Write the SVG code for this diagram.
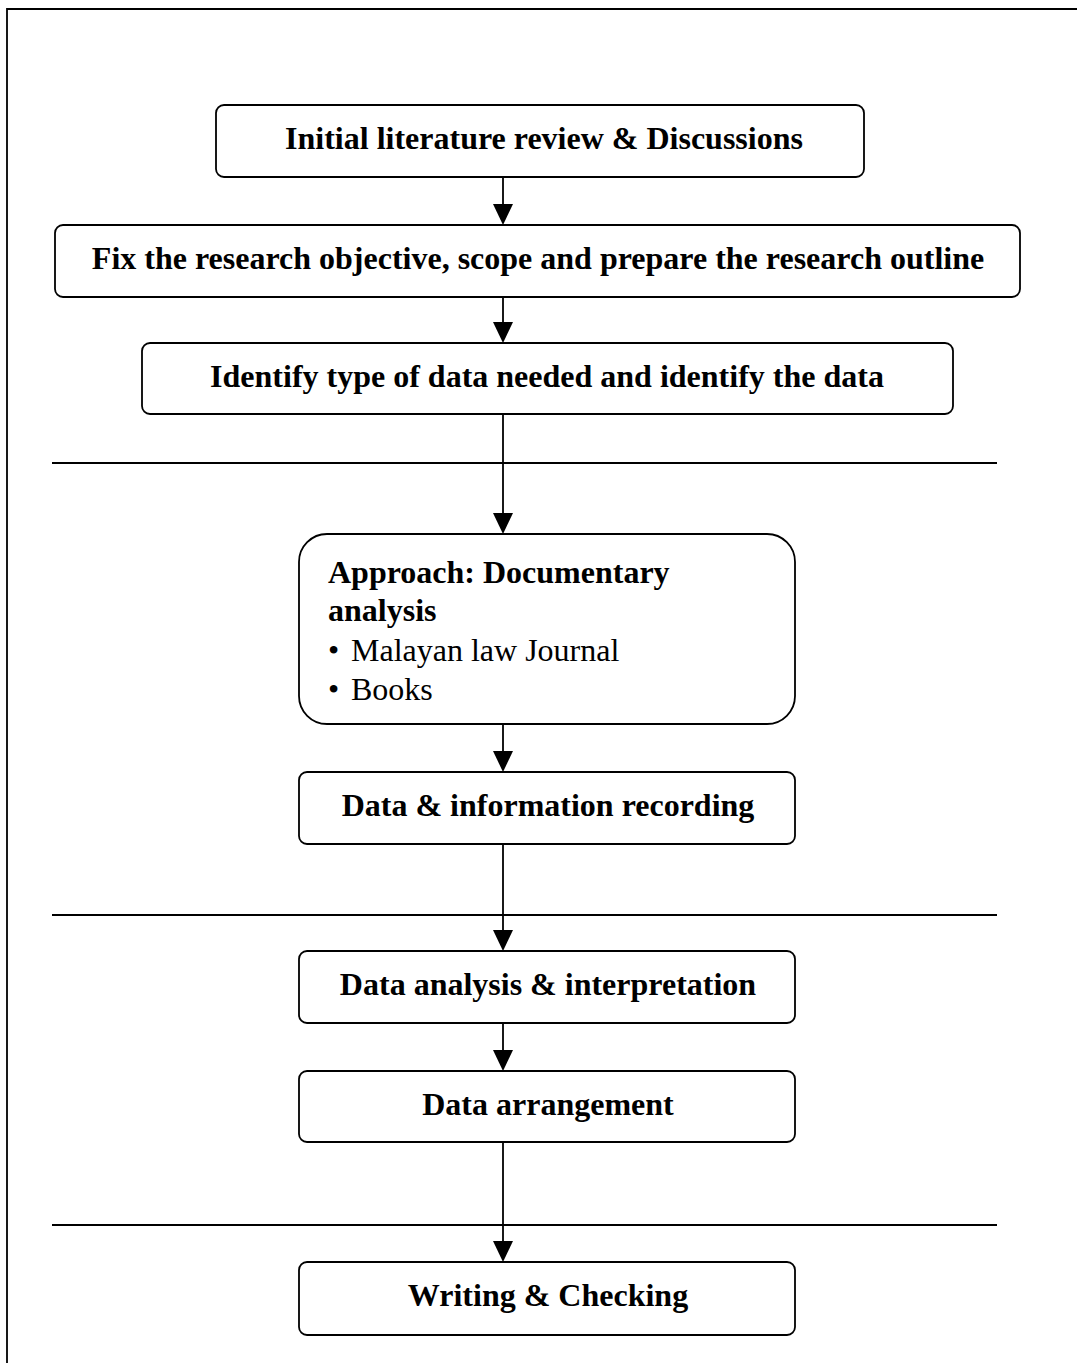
<svg xmlns="http://www.w3.org/2000/svg" width="1077" height="1363" viewBox="0 0 1077 1363">
<defs>
<style>
.box{fill:#fff;stroke:#000;stroke-width:1.8}
.t{font-family:"Liberation Serif","Times New Roman",serif;font-weight:bold;font-size:32px;fill:#000;text-anchor:middle}
.r{font-family:"Liberation Serif","Times New Roman",serif;font-size:32px;fill:#000}
.b{font-family:"Liberation Serif","Times New Roman",serif;font-weight:bold;font-size:32px;fill:#000}
.ln{stroke:#000;stroke-width:1.8;fill:none}
.ar{stroke:#000;stroke-width:1.8;fill:none}
.hd{fill:#000}
</style>
</defs>
<rect width="1077" height="1363" fill="#fff"/>
<g id="frame">
<path class="ln" d="M7,1363 L7,9 L1077,9"/>
</g>
<g id="separators">
<line class="ln" x1="52" y1="463" x2="997" y2="463"/>
<line class="ln" x1="52" y1="915" x2="997" y2="915"/>
<line class="ln" x1="52" y1="1225" x2="997" y2="1225"/>
</g>
<g id="connectors">
<line class="ar" x1="503" y1="177" x2="503" y2="206"/>
<path class="hd" d="M493,204 L513,204 L503,225 Z"/>
<line class="ar" x1="503" y1="297" x2="503" y2="324"/>
<path class="hd" d="M493,322 L513,322 L503,343 Z"/>
<line class="ar" x1="503" y1="414" x2="503" y2="515"/>
<path class="hd" d="M493,513 L513,513 L503,534 Z"/>
<line class="ar" x1="503" y1="724" x2="503" y2="753"/>
<path class="hd" d="M493,751 L513,751 L503,772 Z"/>
<line class="ar" x1="503" y1="844" x2="503" y2="932"/>
<path class="hd" d="M493,930 L513,930 L503,951 Z"/>
<line class="ar" x1="503" y1="1023" x2="503" y2="1052"/>
<path class="hd" d="M493,1050 L513,1050 L503,1071 Z"/>
<line class="ar" x1="503" y1="1142" x2="503" y2="1243"/>
<path class="hd" d="M493,1241 L513,1241 L503,1262 Z"/>
</g>
<g id="n1">
<rect class="box" x="216" y="105" width="648" height="72" rx="8"/>
<text class="t" x="544" y="149">Initial literature review &amp; Discussions</text>
</g>
<g id="n2">
<rect class="box" x="55" y="225" width="965" height="72" rx="8"/>
<text class="t" x="538" y="269">Fix the research objective, scope and prepare the research outline</text>
</g>
<g id="n3">
<rect class="box" x="142" y="343" width="811" height="71" rx="8"/>
<text class="t" x="547" y="387">Identify type of data needed and identify the data</text>
</g>
<g id="n4">
<rect class="box" x="299" y="534" width="496" height="190" rx="28"/>
<text class="b" x="328" y="583">Approach: Documentary</text>
<text class="b" x="328" y="621">analysis</text>
<text class="r" y="661"><tspan x="328">•</tspan><tspan x="351">Malayan law Journal</tspan></text>
<text class="r" y="700"><tspan x="328">•</tspan><tspan x="351">Books</tspan></text>
</g>
<g id="n5">
<rect class="box" x="299" y="772" width="496" height="72" rx="8"/>
<text class="t" x="548" y="816">Data &amp; information recording</text>
</g>
<g id="n6">
<rect class="box" x="299" y="951" width="496" height="72" rx="8"/>
<text class="t" x="548" y="995">Data analysis &amp; interpretation</text>
</g>
<g id="n7">
<rect class="box" x="299" y="1071" width="496" height="71" rx="8"/>
<text class="t" x="548" y="1115">Data arrangement</text>
</g>
<g id="n8">
<rect class="box" x="299" y="1262" width="496" height="73" rx="8"/>
<text class="t" x="548" y="1306">Writing &amp; Checking</text>
</g>
</svg>
